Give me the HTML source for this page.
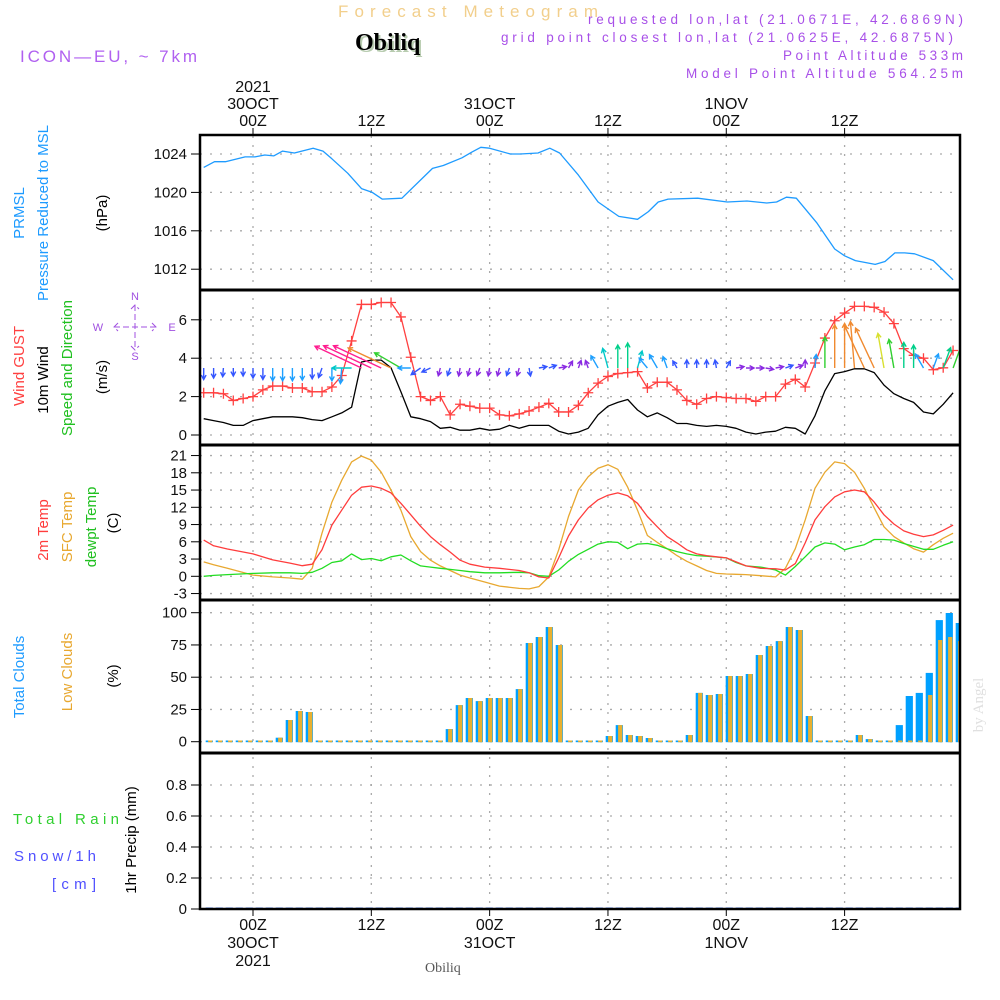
<!DOCTYPE html>
<html><head><meta charset="utf-8"><title>Meteogram Obiliq</title>
<style>
html,body{margin:0;padding:0;background:#fff;}
svg{display:block;font-family:"Liberation Sans",sans-serif;}
</style></head>
<body>
<svg id="chart" width="1000" height="1000" viewBox="0 0 1000 1000" xmlns="http://www.w3.org/2000/svg">
<defs><clipPath id="plotclip"><rect x="200" y="135" width="760" height="774"/></clipPath></defs>
<rect x="0" y="0" width="1000" height="1000" fill="#fff"/>
<text x="338" y="17" font-size="17" fill="#f2cf8c" textLength="260">Forecast Meteogram</text>
<text x="357" y="52" font-size="24" font-weight="bold" font-family="Liberation Serif,serif" fill="#b8ccb0">Obiliq</text>
<text x="355" y="50" font-size="24" font-weight="bold" font-family="Liberation Serif,serif" fill="#000">Obiliq</text>
<text x="20" y="62" font-size="17" fill="#b060f0" textLength="177">ICON—EU, ~ 7km</text>
<text x="963" y="24" font-size="13.5" fill="#a850e8" text-anchor="end" textLength="375">requested lon,lat (21.0671E, 42.6869N)</text>
<text x="953" y="42" font-size="13.5" fill="#a850e8" text-anchor="end" textLength="452">grid point closest lon,lat (21.0625E, 42.6875N)</text>
<text x="963" y="60" font-size="13.5" fill="#a850e8" text-anchor="end" textLength="180">Point Altitude 533m</text>
<text x="963" y="78" font-size="13.5" fill="#a850e8" text-anchor="end" textLength="277">Model Point Altitude 564.25m</text>

<g font-size="15" fill="#000">
<text transform="translate(24,213) rotate(-90)" text-anchor="middle" fill="#1e9bff">PRMSL</text>
<text transform="translate(48,213) rotate(-90)" text-anchor="middle" fill="#1e9bff">Pressure Reduced to MSL</text>
<text transform="translate(107,213) rotate(-90)" text-anchor="middle">(hPa)</text>
<text transform="translate(24,366) rotate(-90)" text-anchor="middle" fill="#ff4040">Wind GUST</text>
<text transform="translate(48,380) rotate(-90)" text-anchor="middle">10m Wind</text>
<text transform="translate(72,368) rotate(-90)" text-anchor="middle" fill="#20c020">Speed and Direction</text>
<text transform="translate(107,377) rotate(-90)" text-anchor="middle">(m/s)</text>
<text transform="translate(48,530) rotate(-90)" text-anchor="middle" fill="#ff3c3c">2m Temp</text>
<text transform="translate(72,527) rotate(-90)" text-anchor="middle" fill="#e8a830">SFC Temp</text>
<text transform="translate(96,527) rotate(-90)" text-anchor="middle" fill="#20c020">dewpt Temp</text>
<text transform="translate(118,523) rotate(-90)" text-anchor="middle">(C)</text>
<text transform="translate(24,677) rotate(-90)" text-anchor="middle" fill="#1e9bff">Total Clouds</text>
<text transform="translate(72,672) rotate(-90)" text-anchor="middle" fill="#e8a830">Low Clouds</text>
<text transform="translate(118,676) rotate(-90)" text-anchor="middle">(%)</text>
<text x="13" y="824" fill="#30d030" textLength="106">Total  Rain</text>
<text x="14" y="861" fill="#5050ff" textLength="82">Snow/1h</text>
<text x="52" y="889" fill="#5050ff" textLength="44">[cm]</text>
<text transform="translate(136,840) rotate(-90)" text-anchor="middle">1hr Precip (mm)</text>
</g>
<g fill="#a050e0" stroke="#a050e0" font-size="11">
<text x="135" y="300" text-anchor="middle" stroke="none">N</text>
<text x="135" y="360" text-anchor="middle" stroke="none">S</text>
<text x="98" y="331" text-anchor="middle" stroke="none">W</text>
<text x="172" y="331" text-anchor="middle" stroke="none">E</text>
<path d="M114 327 H156 M135 305 V350 M118 323 L114 327 L118 331 M152 323 L156 327 L152 331 M131 309 L135 305 L139 309 M131 346 L135 350 L139 346" fill="none" stroke-width="1" stroke-dasharray="6,3"/>
</g>
<text transform="translate(983,705) rotate(-90)" text-anchor="middle" font-size="15" font-family="Liberation Serif,serif" fill="#e0e0e0">by Angel</text>
<text x="425" y="972" font-size="14" font-family="Liberation Serif,serif" fill="#555">Obiliq</text>

<g id="grid"></g>
<g id="marks" clip-path="url(#plotclip)"></g>
<g id="frame"></g>
<g id="axes" font-size="15" fill="#111"></g>
</svg>
<script>
// ---- data ----
const timeTickHours = [0, 12, 24, 36, 48, 60];
const timeTickTop = [["2021","30OCT","00Z"],["12Z"],["31OCT","00Z"],["12Z"],["1NOV","00Z"],["12Z"]];
const timeTickBottom = [["00Z","30OCT","2021"],["12Z"],["00Z","31OCT"],["12Z"],["00Z","1NOV"],["12Z"]];
const pressTicks = [1024, 1020, 1016, 1012];
const windTicks = [0, 2, 4, 6];
const tempTicks = [21, 18, 15, 12, 9, 6, 3, 0, -3];
const cloudTicks = [100, 75, 50, 25, 0];
const precipTicks = [0.8, 0.6, 0.4, 0.2, 0];
const precipTickLabels = ["0.8","0.6","0.4","0.2","0"];

const pressHours = [-5,-3.9,-2.8,-0.8,0.2,1.2,2.1,3,4.2,6.1,7.1,8,9.6,11,12.1,13.1,15.1,18.2,19.3,21.2,22.2,23.1,24,26.1,27.1,28.9,30.1,31.1,33,35,37.1,39,40.1,41.1,42.1,45.1,48.1,50.1,52.1,53.1,54.1,55.1,57.2,59,60,61.1,63.1,64.1,65.1,66.1,67.1,69,71];
const pressValues = [1022.6,1023.2,1023.2,1023.7,1023.7,1023.9,1023.8,1024.3,1024.1,1024.6,1024.3,1023.5,1022.0,1020.4,1020,1019.3,1019.4,1022.5,1022.8,1023.6,1024.2,1024.7,1024.6,1024,1024,1024.1,1024.6,1024.1,1021.8,1019,1017.5,1017.2,1018,1019,1019.3,1019.4,1019,1019.1,1018.9,1019,1019.5,1019.4,1016.8,1014.1,1013.4,1012.9,1012.5,1012.8,1013.7,1013.7,1013.6,1012.9,1010.9];

const windStartHour = -5;
const gustValues = [2.2,2.2,2.15,1.8,1.9,2.0,2.35,2.55,2.55,2.45,2.45,2.25,2.25,2.5,3.1,4.9,6.8,6.8,6.9,6.9,6.15,4.05,2.0,1.8,2.0,1.05,1.6,1.5,1.4,1.4,1.05,1.0,1.1,1.25,1.45,1.65,1.2,1.2,1.55,2.2,2.7,3.05,3.2,3.25,3.3,2.45,2.75,2.75,2.35,1.8,1.6,1.9,2.0,1.95,1.9,1.9,1.75,2.0,2.0,2.65,2.9,2.5,3.75,5.05,5.95,6.35,6.7,6.7,6.65,6.4,5.8,4.5,4.15,4.0,3.4,3.5,4.4];
const windValues = [0.85,0.75,0.65,0.5,0.5,0.75,0.85,0.95,0.95,0.95,0.9,0.8,0.75,0.95,1.15,1.45,3.8,3.9,3.9,3.5,2.25,0.95,0.85,0.7,0.35,0.4,0.25,0.25,0.35,0.25,0.3,0.5,0.35,0.5,0.5,0.5,0.2,0.05,0.15,0.35,1.05,1.5,1.7,1.85,1.3,0.95,1.15,0.9,0.6,0.6,0.5,0.45,0.5,0.45,0.35,0.15,0.05,0.15,0.2,0.4,0.35,0.05,1.0,2.3,3.2,3.3,3.45,3.45,3.25,2.6,2.15,1.9,1.7,1.2,1.1,1.6,2.2];
const windDirTo = [180,180,185,180,180,180,180,180,180,180,180,180,200,180,185,270,295,295,295,295,300,270,235,245,195,200,190,195,200,190,195,200,195,170,80,70,80,30,20,340,330,345,0,0,15,320,330,340,330,0,0,0,350,30,80,90,90,100,80,70,70,0,5,0,0,0,355,335,335,350,350,0,0,330,20,20,20];

const tempHours = [-5,-4,-2.6,0,2,3.75,5,6,7,8,9,10,11,12,13,14,15,16,17,18,19,20,21,22,23.5,25,27,28,29,30,31,32,33,34,35,36,37,38,39,40,41,42,43,44,45,46,47,48,49,50,51.5,53,54,55,56,57,58,59,60,61,62,63,64,65,66,67,68,69,70,71];
const temp2m = [6.3,5.3,4.75,3.9,2.85,2.3,1.85,2.1,4.6,8.9,11.5,14.1,15.5,15.7,15.3,14.5,12.7,10.7,8.7,6.9,5.5,4.2,2.8,2.1,1.6,1.4,1.0,0.6,-0.1,-0.3,3.2,7,9.8,11.9,13.3,14.1,14.5,14.0,12.7,10.4,8.6,6.9,5.8,4.6,3.9,3.6,3.4,3.2,2.5,1.8,1.4,1.3,1.1,2.2,5.8,9.8,12.1,13.8,14.7,15.0,14.7,12.9,10.7,9.1,7.9,7.3,6.9,7.2,8.0,8.9];
const tempSfc = [2.5,2.0,1.4,0.2,-0.1,-0.3,-0.5,1.4,7.5,12.9,16.7,19.9,20.9,20.2,18.1,15.0,11.5,6.9,4.3,2.8,1.8,1.0,0.2,-0.3,-1.0,-1.7,-2.1,-2.2,-1.8,-0.1,4.6,10.4,15.0,17.3,18.8,19.4,18.6,15.5,11.5,7.1,5.9,4.8,3.6,2.6,1.8,1.0,0.5,0.4,0.35,0.3,0.1,-0.1,1.4,4.8,9.8,15.3,18.1,19.9,19.6,18.1,15.3,11.9,8.6,6.9,5.8,4.8,4.2,5.5,6.6,7.5];
const tempDew = [0,0.15,0.3,0.5,0.6,0.6,0.5,0.7,1.4,2.4,2.7,3.9,2.9,3.1,2.7,3.4,3.7,2.7,1.8,1.6,1.4,1.2,1.0,0.8,0.6,0.6,0.7,0.6,0.1,0,1.1,2.6,3.8,4.7,5.6,6.0,5.9,4.8,5.6,5.7,5.4,4.8,4.3,3.9,3.6,3.5,3.35,3.2,2.4,1.8,1.6,1.1,0.2,1.7,3.4,5.1,5.8,5.6,4.6,5.1,5.5,6.4,6.4,6.3,5.7,5.2,4.7,4.7,5.4,6.0];

const cloudStartHour = -5;
const cloudTotal = [0,0,0,0,0,0,0,3.1,16.8,23.8,23,0,0,0,0,0,0,0,0,0,0,0,0,0,9.8,28.4,33.9,31.5,33.9,33.9,33.9,40.8,76.5,81.2,88.9,75,0,0,0,0,4.4,12.9,5.2,4.4,2.9,0,0,0,5.2,37.8,36.2,37,50.9,50.9,52.5,67.2,74.2,78,88.9,86.6,19.9,0,0,0,0,5.2,2.0,0.5,0.5,12.9,35.4,37.8,53.3,94.3,99.8,92];
const cloudLow   = [0,0,0,0,0,0,0,3.1,16.8,23.8,23,0,0,0,0,0,0,0,0,0,0,0,0,0,9.8,28.4,33.9,31.5,33.9,33.9,33.9,40.8,76.5,81.2,88.9,75,0,0,0,0,4.4,12.9,5.2,4.4,2.9,0,0,0,5.2,37.8,36.2,37,50.9,50.9,52.5,67.2,74.2,78,88.9,86.6,19.9,0,0,0,0,5.2,2.0,0.5,0,0,0,0,36.2,78.8,81.2,78];
const precipValues = new Array(76).fill(0);

// ---- scales ----
const PL = 200, PR = 960;
const X = h => 253 + h * 9.86;
const XB = h => 209.3 + (h + 5) * 10;
const yP = p => 154 + (1024 - p) * 9.6;
const yW = v => 435 - v * 19.2;
const yT = t => 576.3 - t * 5.75;
const yC = c => 741.7 - c * 1.29;
const yR = r => 909 - r * 155;
const panels = [[135,290],[290,445],[445,600],[600,753],[753,909]];
const NS = "http://www.w3.org/2000/svg";
function mk(tag, attrs, parent) {
  const e = document.createElementNS(NS, tag);
  for (const k in attrs) e.setAttribute(k, attrs[k]);
  parent.appendChild(e);
  return e;
}
const grid = document.getElementById('grid');
const marks = document.getElementById('marks');
const frame = document.getElementById('frame');
const axes = document.getElementById('axes');

timeTickHours.forEach((h, i) => {
  const x = X(h);
  const g = mk('line', {x1:x, x2:x, y1:136, y2:908, stroke:'#aaa', 'stroke-width':1.3, 'stroke-dasharray':'2,7'}, grid);
  
  
  const t1 = mk('line', {x1:x, x2:x, y1:128, y2:135, stroke:'#000', 'stroke-width':1}, axes);
  
  
  const t2 = mk('line', {x1:x, x2:x, y1:909, y2:916, stroke:'#000', 'stroke-width':1}, axes);
  
  
  const top = timeTickTop[i];
  top.forEach((s, j) => {
    const y = 126 - (top.length - 1 - j) * 17;
    const t = mk('text', {x:x, y:y, 'text-anchor':'middle', 'font-size':16, fill:'#111'}, axes);
    t.textContent = s;
    
    
  });
  timeTickBottom[i].forEach((s, j) => {
    const t = mk('text', {x:x, y:930 + j * 18, 'text-anchor':'middle', 'font-size':16, fill:'#111'}, axes);
    t.textContent = s;
    
    
  });
});

function yAxis(ticks, labels, fy, name) {
  ticks.forEach((v, i) => {
    const y = fy(v);
    const g = mk('line', {x1:PL, x2:PR, y1:y, y2:y, stroke:'#aaa', 'stroke-width':1.3, 'stroke-dasharray':'2,8'}, grid);
    
    
    const tk = mk('line', {x1:191, x2:PL, y1:y, y2:y, stroke:'#000', 'stroke-width':1}, axes);
    
    
    const t = mk('text', {x:187, y:y + 5, 'text-anchor':'end'}, axes);
    t.textContent = labels ? labels[i] : String(v);
    
    
  });
}
yAxis(pressTicks, null, yP, 'pressure');
yAxis(windTicks, null, yW, 'wind');
yAxis(tempTicks, null, yT, 'temp');
yAxis(cloudTicks, null, yC, 'cloud');
yAxis(precipTicks, precipTickLabels, yR, 'precip');

function polyline(xs, ys, color, name, w) {
  const pts = xs.map((h, i) => X(h).toFixed(1) + ',' + ys[i].toFixed(1)).join(' ');
  const p = mk('polyline', {points:pts, fill:'none', stroke:color, 'stroke-width':w || 1.3, 'stroke-linejoin':'round'}, marks);
  
  
}
polyline(pressHours, pressValues.map(yP), '#1e9bff', 'pressure-line');
const windHours = windValues.map((_, i) => windStartHour + i);
polyline(windHours, windValues.map(yW), '#000', 'wind-speed-line');
polyline(windHours, gustValues.map(yW), '#ff4040', 'wind-gust-line');
gustValues.forEach((v, i) => {
  const x = X(windHours[i]), y = yW(v);
  const m = mk('path', {d:`M${x-5} ${y}H${x+5}M${x} ${y-5}V${y+5}`, stroke:'#ff4040', 'stroke-width':1.3}, marks);
  
  
});
function speedColor(s) {
  if (s < 0.4) return '#8a2be2';
  if (s < 0.9) return '#3355ff';
  if (s < 1.3) return '#1ea0ff';
  if (s < 1.6) return '#00c8c8';
  if (s < 2.0) return '#00d08a';
  if (s < 2.5) return '#30d030';
  if (s < 2.9) return '#d8e030';
  if (s < 3.6) return '#f08a30';
  return '#ff1e90';
}
const arrowBaseY = 368;
windDirTo.forEach((d, i) => {
  const s = windValues[i];
  const len = Math.max(8, 13.5 * s);
  const a = d * Math.PI / 180;
  const x0 = X(windHours[i]), y0 = arrowBaseY;
  const x1 = x0 + len * Math.sin(a), y1 = y0 - len * Math.cos(a);
  const hl = 5, ha = 0.5;
  const bx = -Math.sin(a), by = Math.cos(a);
  const hx1 = x1 + hl * (bx * Math.cos(ha) - by * Math.sin(ha));
  const hy1 = y1 + hl * (bx * Math.sin(ha) + by * Math.cos(ha));
  const hx2 = x1 + hl * (bx * Math.cos(-ha) - by * Math.sin(-ha));
  const hy2 = y1 + hl * (bx * Math.sin(-ha) + by * Math.cos(-ha));
  const p = mk('path', {d:`M${x0.toFixed(1)} ${y0}L${x1.toFixed(1)} ${y1.toFixed(1)}M${hx1.toFixed(1)} ${hy1.toFixed(1)}L${x1.toFixed(1)} ${y1.toFixed(1)}L${hx2.toFixed(1)} ${hy2.toFixed(1)}`, fill:'none', stroke:speedColor(s), 'stroke-width':1.4}, marks);
  
  
});
polyline(tempHours, tempSfc.map(yT), '#e8a830', 'sfc-temp-line');
polyline(tempHours, tempDew.map(yT), '#22dd22', 'dewpoint-line');
polyline(tempHours, temp2m.map(yT), '#ff3c3c', 'temp-2m-line');
cloudTotal.forEach((c, i) => {
  const h = cloudStartHour + i;
  const cx = XB(h);
  const yt = Math.min(yC(c), yC(0) - 1.2);
  const b = mk('rect', {x:(cx - 3.6).toFixed(1), y:yt.toFixed(1), width:7.2, height:(yC(0) - yt + 0.5).toFixed(1), fill:'#00a0ff'}, marks);
  
  
  const yl = Math.min(yC(cloudLow[i]), yC(0) - 1.2);
  const o = mk('rect', {x:(cx - 1.2).toFixed(1), y:yl.toFixed(1), width:4.2, height:(yC(0) - yl + 0.5).toFixed(1), fill:'#e8b030'}, marks);
  
  
});
precipValues.forEach((r, i) => {
  const cx = XB(cloudStartHour + i);
  const yt = Math.min(yR(r), yR(0) - 1.5);
  const b = mk('rect', {x:(cx - 3.6).toFixed(1), y:yt.toFixed(1), width:7.2, height:(yR(0) - yt).toFixed(1), fill:'#3070ff'}, marks);
  
  
});
const fr = mk('rect', {x:PL, y:135, width:PR - PL, height:909 - 135, fill:'none', stroke:'#000', 'stroke-width':2.5}, frame);


panels.slice(1).forEach(p => {
  const l = mk('line', {x1:PL, x2:PR, y1:p[0], y2:p[0], stroke:'#000', 'stroke-width':3}, frame);
  
  
});
</script>
</body></html>
